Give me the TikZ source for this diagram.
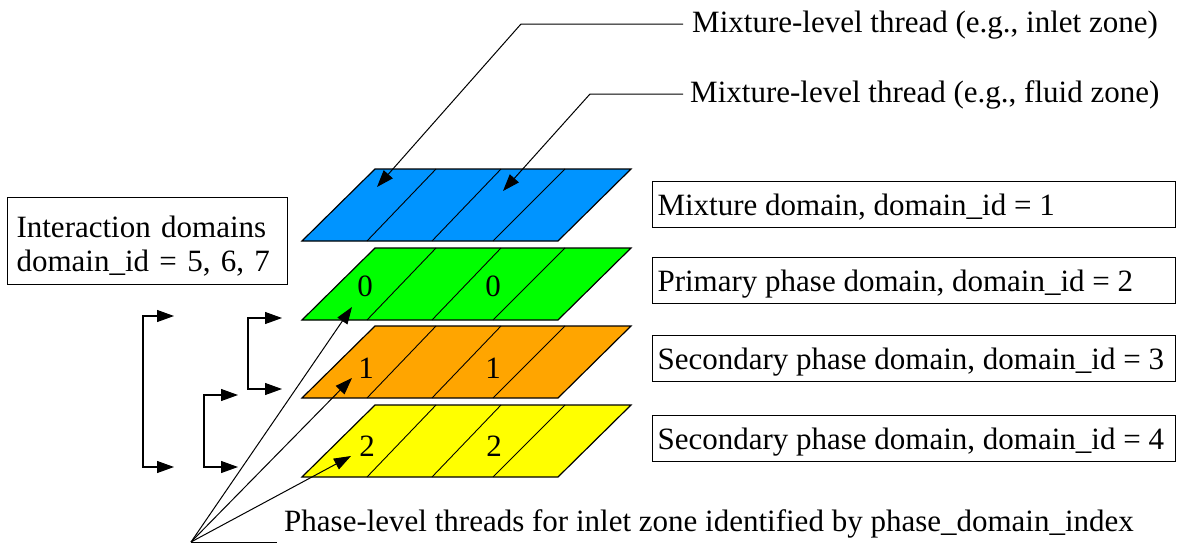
\documentclass[tikz,border=0pt]{standalone}
\usepackage{fontspec}
\setmainfont{Liberation Serif}
\usetikzlibrary{arrows.meta}
\definecolor{mixblue}{RGB}{0,148,255}
\definecolor{phgreen}{RGB}{0,255,0}
\definecolor{phorange}{RGB}{255,165,0}
\definecolor{phyellow}{RGB}{255,255,0}
% left-aligned line of fixed width inside a framed box
\newcommand{\boxline}[1]{\makebox[513pt][l]{#1}}
\begin{document}
\begin{tikzpicture}[x=1pt,y=-1pt,
  font=\fontsize{31}{33}\selectfont,
  >={Triangle[length=17pt,width=12pt]},
  layer/.style={draw=black,line width=1.2pt,line join=miter},
  divider/.style={draw=black,line width=0.9pt},
  conn/.style={draw=black,line width=1pt},
  brk/.style={draw=black,line width=1.1pt},
  dombox/.style={draw=black,line width=1.1pt,anchor=north west,
    minimum height=46pt,inner xsep=5pt,inner ysep=0pt,
    text height=28pt,text depth=6pt},
  lbl/.style={inner sep=0pt,text height=22pt,text depth=6pt},
  digit/.style={inner sep=0pt}]
\useasboundingbox (0,0) rectangle (1178,554);

% stacked domain layers, each split into four zones
\foreach \t/\c in {169/mixblue,248/phgreen,326/phorange,405/phyellow}{
  \filldraw[layer,fill=\c] (375,\t) -- (631,\t) -- (558,\t+72) -- (302,\t+72) -- cycle;
  \draw[divider] (436,\t) -- (367,\t+72);
  \draw[divider] (501,\t) -- (432,\t+72);
  \draw[divider] (565,\t) -- (493,\t+72);
}

% phase indices
\node[digit] (g0a) at (365,286) {0};
\node[digit] (g0b) at (493,286) {0};
\node[digit] (o1a) at (366,368) {1};
\node[digit] (o1b) at (493,368) {1};
\node[digit] (y2a) at (367,446) {2};
\node[digit] (y2b) at (494,446) {2};

% domain boxes
\node[dombox] (dom1) at (652,181) {\boxline{Mixture domain, domain\_id = 1}};
\node[dombox] (dom2) at (652,257) {\boxline{Primary phase domain, domain\_id = 2}};
\node[dombox] (dom3) at (652,335) {\boxline{Secondary phase domain, domain\_id = 3}};
\node[dombox] (dom4) at (652,415) {\boxline{Secondary phase domain, domain\_id = 4}};

% interaction domains
\node[draw=black,line width=1.1pt,anchor=north west,minimum height=87pt,
  inner xsep=9pt,inner ysep=0pt,text width=262pt,align=left,
  font=\fontsize{31}{34}\selectfont] (inter) at (7,197)
  {\rule{0pt}{31pt}Interaction domains\\domain\_id = 5, 6, 7};

% mixture-level thread callouts
\node[lbl,anchor=west] (mixin) at (692,24) {Mixture-level thread (e.g., inlet zone)};
\node[lbl,anchor=west] (mixfl) at (690,94) {Mixture-level thread (e.g., fluid zone)};
\coordinate (mixinL) at (683,24);
\coordinate (mixflL) at (683,94);
\coordinate (tipin) at (377,187);
\coordinate (tipfl) at (503,191);
\draw[conn,->] (mixinL) -- (521,24) -- (tipin);
\draw[conn,->] (mixflL) -- (590,94) -- (tipfl);

% phase-level thread callout
\node[lbl,anchor=base west] (phase) at (284,531)
  {Phase-level threads for inlet zone identified by phase\_domain\_index};
\coordinate (phroot) at (191,542);
\coordinate (phend) at (277,542);
\coordinate (tipg) at (352,307);
\coordinate (tipo) at (352,378);
\coordinate (tipy) at (351,456);
\draw[conn] (phroot) -- (phend);
\draw[conn,->] (phroot) -- (tipg);
\draw[conn,->] (phroot) -- (tipo);
\draw[conn,->] (phroot) -- (tipy);

% interaction brackets between domain pairs
\coordinate (ia) at (174,316); \coordinate (ib) at (174,467);
\coordinate (ja) at (238,395); \coordinate (jb) at (238,467);
\coordinate (ka) at (282,318); \coordinate (kb) at (282,389);
\draw[brk,<->] (ia) -- (143,316) |- (ib);
\draw[brk,<->] (ja) -- (204,395) |- (jb);
\draw[brk,<->] (ka) -- (248,318) |- (kb);
\end{tikzpicture}
\end{document}
